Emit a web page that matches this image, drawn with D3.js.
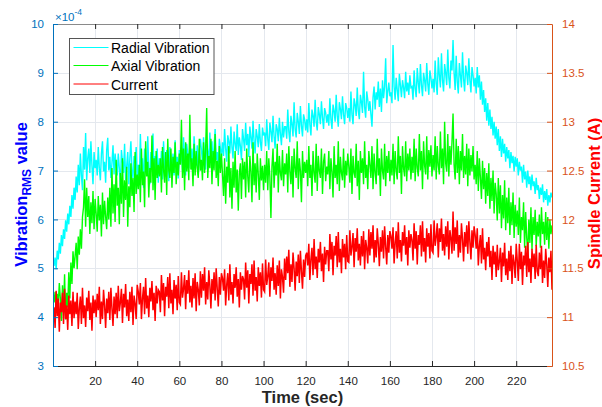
<!DOCTYPE html>
<html>
<head>
<meta charset="utf-8">
<script src="https://cdn.jsdelivr.net/npm/d3@7"></script>
<style>
  html, body { margin: 0; padding: 0; background: #ffffff; }
  svg { display: block; font-family: "Liberation Sans", Arial, Helvetica, sans-serif; }
</style>
</head>
<body>
<script>
// ---------------- DATA ----------------
// sampling of the recording (seconds)
const timeStart = 0.5;
const timeStep = 0.5;

// Radial vibration RMS, in units of 1e-6 (i.e. 712 -> 7.12e-4)
const radialVib = [
505,522,498,536,518,552,530,568,545,580,560,598,575,612,590,628,605,650,622,665,
640,688,655,712,670,735,690,660,748,702,777,680,725,745,695,760,710,672,738,705,
722,690,748,705,680,735,760,698,718,675,742,767,700,728,685,715,752,692,735,708,
690,735,705,668,742,718,695,755,680,710,738,672,725,760,700,685,730,715,748,682,
712,680,775,698,725,665,745,718,690,770,705,672,738,715,776,688,730,700,745,675,
725,695,740,682,760,710,688,742,715,678,748,725,700,735,690,762,705,728,684,742,
715,748,700,768,725,690,755,735,705,762,718,745,698,770,728,710,752,690,740,765,
742,715,768,725,702,755,740,718,778,730,760,712,748,785,722,738,700,765,745,728,
758,730,785,745,718,772,760,735,790,748,725,780,755,740,795,732,768,750,722,785,
765,740,798,752,775,728,790,768,745,802,760,735,785,770,748,795,758,740,788,772,
778,750,805,765,742,798,780,758,812,770,745,795,785,760,808,775,752,800,768,790,
790,765,825,780,758,812,795,770,840,785,768,818,800,775,832,792,770,815,805,782,
805,778,838,795,772,825,812,790,845,800,782,830,815,795,842,808,785,828,818,798,
815,792,848,805,785,835,822,800,855,812,790,840,826,805,852,815,795,838,828,808,
828,800,862,815,795,848,835,812,870,822,805,855,840,818,902,830,808,862,845,822,
842,815,790,850,872,825,860,845,882,830,868,820,885,848,872,930,838,862,880,852,
860,838,957,872,845,890,865,842,898,875,850,885,870,848,902,862,880,855,895,870,
872,845,905,868,850,910,880,858,918,875,852,900,885,862,920,878,855,905,890,868,
888,860,925,878,855,932,895,870,940,885,862,918,900,875,948,890,868,925,905,967,
900,865,935,882,858,920,895,870,942,888,862,915,900,875,930,885,860,912,895,872,
890,858,912,870,895,845,882,835,865,820,848,802,838,792,825,785,810,772,800,765,
790,752,785,740,770,728,765,735,755,718,748,725,742,705,738,715,730,698,728,708,
725,690,718,700,708,675,712,682,698,665,700,672,688,660,692,668,678,652,685,660,
670,642,665,650,672,635,658,640,662,628,650,635,655,645
];

// Axial vibration RMS, in units of 1e-6
const axialVib = [
430,452,412,448,425,470,438,392,465,410,488,395,450,420,492,438,512,468,535,500,
525,552,498,565,528,580,540,605,625,682,585,665,605,648,570,635,592,658,580,642,
612,575,648,598,630,565,655,590,638,605,580,645,600,665,585,705,612,672,595,722,
628,665,590,695,632,725,605,680,640,708,585,668,625,715,648,685,615,738,652,692,
662,712,635,745,670,698,625,760,688,718,645,705,675,772,660,725,640,740,685,712,
688,725,655,748,702,675,738,650,765,700,685,745,665,728,695,758,672,718,690,735,
712,804,685,745,660,758,698,735,680,814,702,725,668,755,690,740,705,685,765,700,
722,680,758,695,745,828,685,730,705,765,672,740,700,775,685,720,668,750,695,735,
692,648,725,632,708,675,750,645,705,622,718,665,740,655,702,618,695,715,642,725,
682,718,645,745,688,655,730,698,635,758,670,715,655,735,692,640,725,680,710,660,
712,675,740,660,725,688,603,708,745,665,718,690,755,655,730,695,680,742,668,715,
692,735,655,750,698,672,730,645,745,705,685,760,662,725,700,635,740,685,718,695,
722,668,750,685,712,648,740,695,675,755,658,730,700,685,745,652,718,735,678,708,
692,740,662,725,698,645,750,685,712,672,760,658,728,695,680,745,665,720,690,735,
708,675,745,652,730,695,685,755,668,720,640,740,695,725,672,760,685,712,662,740,
712,685,750,662,735,695,672,765,690,725,648,745,700,682,755,668,730,695,740,678,
722,690,755,672,740,700,682,770,695,730,652,750,705,688,760,678,735,700,745,682,
728,695,765,678,745,705,688,775,700,740,662,760,710,692,770,682,742,708,752,688,
732,700,770,682,750,710,692,780,705,745,672,800,715,698,775,688,750,712,758,817,
712,682,765,695,750,672,740,700,775,685,730,692,755,668,745,690,732,698,750,682,
712,672,740,658,725,685,642,720,662,705,632,695,648,715,622,685,638,700,612,675,
652,598,685,612,670,582,650,602,680,578,645,592,665,568,635,588,655,562,630,585,
618,568,645,552,605,578,635,542,615,562,528,600,552,625,538,605,568,620,545,595,
565,610,542,625,570,595,548,615,558,605,540,600,570,588
];

// Spindle current, in units of 0.01 A
const spindleCurrent = [
1110,1089,1127,1101,1119,1085,1115,1105,1125,1093,1129,1098,1112,1087,1122,1103,1117,1091,1126,1099,
1116,1103,1125,1088,1109,1121,1093,1130,1099,1112,1090,1120,1106,1127,1097,1115,1086,1122,1104,1118,
1100,1124,1107,1131,1093,1116,1098,1128,1112,1089,1119,1104,1126,1097,1130,1109,1091,1121,1103,1125,
1099,1132,1106,1115,1129,1094,1124,1110,1134,1101,1118,1096,1126,1105,1131,1092,1122,1114,1098,1133,
1126,1113,1135,1098,1119,1131,1103,1140,1109,1122,1100,1130,1116,1137,1107,1125,1096,1132,1114,1128,
1126,1105,1143,1117,1135,1101,1131,1121,1141,1109,1145,1114,1128,1103,1138,1119,1133,1107,1142,1115,
1113,1146,1120,1129,1143,1108,1138,1124,1148,1115,1132,1110,1140,1119,1145,1106,1136,1128,1112,1147,
1120,1144,1127,1151,1113,1136,1118,1148,1132,1109,1139,1124,1146,1117,1150,1129,1111,1141,1123,1145,
1140,1127,1149,1112,1133,1145,1117,1154,1123,1136,1114,1144,1130,1151,1121,1139,1110,1146,1128,1142,
1139,1118,1156,1130,1148,1114,1144,1134,1154,1122,1158,1127,1141,1116,1151,1132,1146,1120,1155,1128,
1126,1159,1133,1142,1156,1121,1151,1137,1161,1128,1145,1123,1153,1132,1158,1119,1149,1141,1125,1160,
1138,1162,1145,1169,1131,1154,1136,1166,1150,1127,1157,1142,1164,1135,1168,1147,1129,1159,1141,1163,
1166,1153,1175,1138,1159,1171,1143,1180,1149,1162,1140,1170,1156,1177,1147,1165,1136,1172,1154,1168,
1168,1147,1185,1159,1177,1143,1173,1163,1183,1151,1187,1156,1170,1145,1180,1161,1175,1149,1184,1157,
1156,1189,1163,1172,1186,1151,1181,1167,1191,1158,1175,1153,1183,1162,1188,1149,1179,1171,1155,1190,
1163,1187,1170,1194,1156,1179,1161,1191,1175,1152,1182,1167,1189,1160,1193,1172,1154,1184,1166,1188,
1183,1170,1192,1155,1176,1188,1160,1197,1166,1179,1157,1187,1173,1194,1164,1182,1153,1189,1171,1185,
1179,1158,1196,1170,1188,1154,1184,1174,1194,1162,1198,1167,1181,1156,1191,1172,1186,1160,1195,1168,
1166,1199,1173,1182,1196,1161,1191,1177,1201,1168,1185,1163,1193,1172,1198,1159,1189,1181,1165,1208,
1168,1192,1175,1199,1161,1184,1166,1196,1180,1157,1187,1172,1194,1165,1198,1177,1159,1189,1171,1193,
1184,1170,1191,1153,1173,1184,1155,1191,1159,1171,1148,1177,1162,1182,1151,1168,1138,1173,1154,1167,
1141,1174,1148,1157,1171,1136,1166,1152,1176,1143,1160,1138,1168,1147,1173,1134,1164,1156,1140,1175,
1158,1137,1175,1149,1167,1133,1163,1153,1173,1141,1177,1146,1160,1135,1170,1151,1165,1139,1174,1147,
1142,1166,1149,1173,1135,1158,1140,1170,1154,1131,1161,1146,1168,1128
];

const xTicks = [20, 40, 60, 80, 100, 120, 140, 160, 180, 200, 220];
const yLeftTicks = [3, 4, 5, 6, 7, 8, 9, 10];          // ×10^-4
const yRightTicks = [10.5, 11, 11.5, 12, 12.5, 13, 13.5, 14];
const seriesNames = ["Radial Vibration", "Axial Vibration", "Current"];
const seriesColors = ["#00FFFF", "#00FF00", "#FF0000"];

// ---------------- CHART ----------------
const W = 602, H = 407;
const plot = { left: 53, right: 552, top: 24, bottom: 366 };
const leftColor = "#0072BD", rightColor = "#D95319", axisDark = "#262626";

const svg = d3.select("body").append("svg").attr("width", W).attr("height", H);

const x = d3.scaleLinear().domain([0, 237]).range([plot.left, plot.right]);
const yL = d3.scaleLinear().domain([3e-4, 10e-4]).range([plot.bottom, plot.top]);
const yR = d3.scaleLinear().domain([10.5, 14]).range([plot.bottom, plot.top]);

const toSeries = (arr, k) => arr.map((v, i) => ({ t: timeStart + i * timeStep, v: v * k }));
const radial = toSeries(radialVib, 1e-6);
const axial = toSeries(axialVib, 1e-6);
const current = toSeries(spindleCurrent, 0.01);

// grid
const grid = svg.append("g").attr("stroke", "#e4e8ee").attr("stroke-width", 1);
xTicks.forEach(t => grid.append("line")
  .attr("x1", Math.round(x(t)) + 0.5).attr("x2", Math.round(x(t)) + 0.5)
  .attr("y1", plot.top).attr("y2", plot.bottom));
yLeftTicks.slice(1, -1).forEach(v => grid.append("line")
  .attr("x1", plot.left).attr("x2", plot.right)
  .attr("y1", Math.round(yL(v * 1e-4)) + 0.5).attr("y2", Math.round(yL(v * 1e-4)) + 0.5));

// clip
svg.append("clipPath").attr("id", "clip").append("rect")
  .attr("x", plot.left).attr("y", plot.top)
  .attr("width", plot.right - plot.left).attr("height", plot.bottom - plot.top);

const lineL = d3.line().x(d => x(d.t)).y(d => yL(d.v));
const lineR = d3.line().x(d => x(d.t)).y(d => yR(d.v));
const gData = svg.append("g").attr("clip-path", "url(#clip)");
gData.append("path").datum(radial).attr("d", lineL)
  .attr("fill", "none").attr("stroke", seriesColors[0]).attr("stroke-width", 1.4);
gData.append("path").datum(axial).attr("d", lineL)
  .attr("fill", "none").attr("stroke", seriesColors[1]).attr("stroke-width", 1.4);
gData.append("path").datum(current).attr("d", lineR)
  .attr("fill", "none").attr("stroke", seriesColors[2]).attr("stroke-width", 1.5);

// axes
const fontTick = "11.5px";
const xAxis = svg.append("g").attr("transform", `translate(0,${plot.bottom})`)
  .call(d3.axisBottom(x).tickValues(xTicks).tickSizeInner(-5).tickSizeOuter(0).tickPadding(11));
xAxis.select(".domain").attr("stroke", axisDark);
xAxis.selectAll(".tick line").attr("stroke", axisDark);
xAxis.selectAll(".tick text").attr("fill", axisDark).style("font-size", fontTick)
  .style("font-family", "Liberation Sans, Arial, sans-serif");

const xTop = svg.append("g").attr("transform", `translate(0,${plot.top})`)
  .call(d3.axisTop(x).tickValues(xTicks).tickSizeInner(-5).tickSizeOuter(0).tickFormat(""));
xTop.select(".domain").attr("stroke", "#8a8a8a");
xTop.selectAll(".tick line").attr("stroke", axisDark);

const yAxisL = svg.append("g").attr("transform", `translate(${plot.left},0)`)
  .call(d3.axisLeft(yL).tickValues(yLeftTicks.map(v => v * 1e-4)).tickSizeInner(-5).tickSizeOuter(0)
    .tickPadding(9).tickFormat(v => d3.format("d")(Math.round(v * 1e4))));
yAxisL.select(".domain").attr("stroke", leftColor);
yAxisL.selectAll(".tick line").attr("stroke", leftColor);
yAxisL.selectAll(".tick text").attr("fill", leftColor).style("font-size", fontTick)
  .style("font-family", "Liberation Sans, Arial, sans-serif");

const yAxisR = svg.append("g").attr("transform", `translate(${plot.right},0)`)
  .call(d3.axisRight(yR).tickValues(yRightTicks).tickSizeInner(-5).tickSizeOuter(0)
    .tickPadding(10).tickFormat(v => String(v)));
yAxisR.select(".domain").attr("stroke", rightColor);
yAxisR.selectAll(".tick line").attr("stroke", rightColor);
yAxisR.selectAll(".tick text").attr("fill", rightColor).style("font-size", fontTick)
  .style("font-family", "Liberation Sans, Arial, sans-serif");

// exponent label
const expo = svg.append("text").attr("x", 55).attr("y", 20.5).attr("fill", leftColor)
  .style("font-size", "11.5px");
expo.append("tspan").text("\u00d710");
expo.append("tspan").attr("dy", -5.5).style("font-size", "8.5px").text("-4");

// axis titles
svg.append("text").attr("x", (plot.left + plot.right) / 2).attr("y", 403)
  .attr("text-anchor", "middle").attr("fill", axisDark)
  .style("font-size", "16.5px").style("font-weight", "bold").text("Time (sec)");

const yl = svg.append("text").attr("transform", "translate(27,194.5) rotate(-90)")
  .attr("text-anchor", "middle").attr("fill", "#0000FF")
  .style("font-size", "16.5px").style("font-weight", "bold");
yl.append("tspan").text("Vibration");
yl.append("tspan").attr("dy", 4).style("font-size", "12px").text("RMS");
yl.append("tspan").attr("dy", -4).text(" value");

svg.append("text").attr("transform", "translate(600,193.5) rotate(-90)")
  .attr("text-anchor", "middle").attr("fill", "#FF0000")
  .style("font-size", "16.5px").style("font-weight", "bold").text("Spindle Current (A)");

// legend
const lg = svg.append("g");
lg.append("rect").attr("x", 69.5).attr("y", 38.5).attr("width", 144.5).attr("height", 56)
  .attr("fill", "#ffffff").attr("stroke", "#555555").attr("stroke-width", 1);
const rowsY = [47.5, 65.5, 84];
seriesNames.forEach((name, i) => {
  lg.append("line").attr("x1", 73.5).attr("x2", 108.5).attr("y1", rowsY[i]).attr("y2", rowsY[i])
    .attr("stroke", seriesColors[i]).attr("stroke-width", 1);
  lg.append("text").attr("x", 111).attr("y", rowsY[i] + 5.5).attr("fill", "#000000")
    .style("font-size", "14px").text(name);
});
</script>
</body>
</html>
